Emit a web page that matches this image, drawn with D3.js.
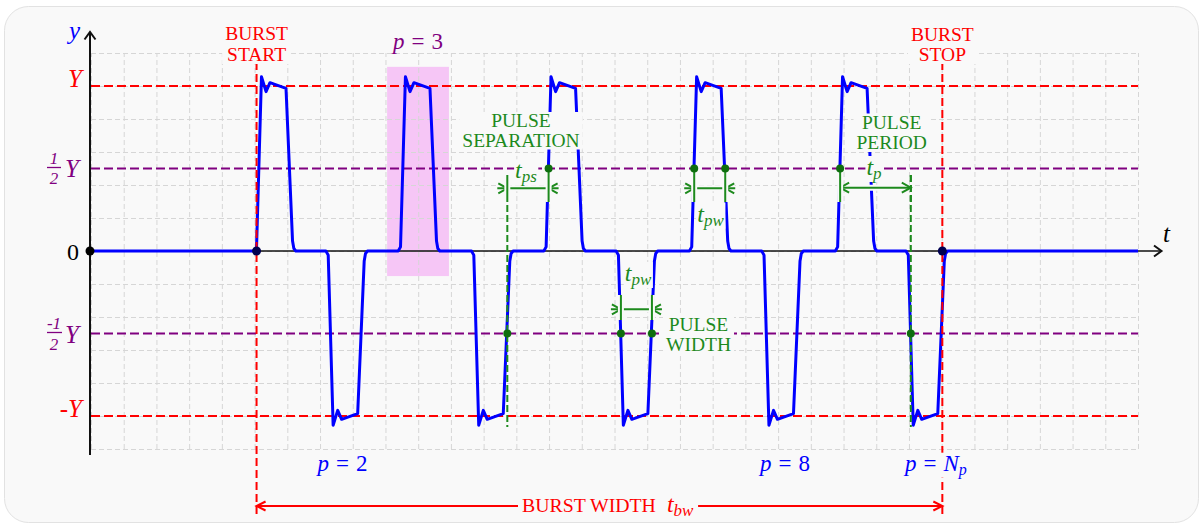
<!DOCTYPE html>
<html><head><meta charset="utf-8">
<script src="https://cdn.jsdelivr.net/npm/d3@7"></script>
<style>html,body{margin:0;padding:0;background:#fff;}svg{display:block;font-family:"Liberation Serif","Times New Roman",serif;}</style>
</head><body><svg id="c" width="1204" height="529"></svg>
<script>
// ---- data (grid units: t along x, y in grid steps) ----
const pulseStarts = [5.06, 7.25, 9.46, 11.70, 13.91, 16.12, 18.36, 20.57, 22.82, 24.98];
const pulseSigns  = [1, -1, 1, -1, 1, -1, 1, -1, 1, -1];
const shapeDt     = [-0.07, 0, 0.15, 0.29, 0.41, 0.90, 1.10, 1.14, 1.20, 1.36];
const shapeLevel  = [0, 0.025, 1.056, 0.966, 1.02, 0.986, 0.06, 0.015, 0, 0];
const amplitude   = 5;              // Y
const redLevels   = [5, -5];        // Y, -Y
const purpleLevels= [2.5, -2.5];    // 1/2 Y, -1/2 Y
const burstStart  = 5.06, burstStop = 26.02;
const halfRiseDt  = 0.076, halfFallDt = 1.024;
const xDomain = [0, 32], yDomain = [-6, 6];
const highlight = {t0: 9.05, t1: 10.94, v0: -0.76, v1: 5.58};
const belowLabels = [{t: 7.69, text: "2"}, {t: 21.21, text: "8"}];

const BG = "#f9f9f9", RED = "#ff0000", PURPLE = "#800080", BLUE = "#0000ff",
      GREEN = "#1d8a1d", DGREEN = "#0e6e0e";

const svg = d3.select("#c");
svg.append("rect").attr("x", 4.5).attr("y", 6.5).attr("width", 1194).attr("height", 516)
   .attr("rx", 24).attr("fill", BG).attr("stroke", "#e2e2e2");

const x = d3.scaleLinear().domain(xDomain).range([91, 1138]);
const y = d3.scaleLinear().domain(yDomain).range([449, 53]);

// highlight box for p = 3
svg.append("rect").attr("x", x(highlight.t0)).attr("y", y(highlight.v1))
   .attr("width", x(highlight.t1) - x(highlight.t0)).attr("height", y(highlight.v0) - y(highlight.v1))
   .attr("fill", "#f6c6f6");

// grid
const gh = y(yDomain[0]) - y(yDomain[1]), gw = x(xDomain[1]) - x(xDomain[0]);
svg.append("g").attr("transform", `translate(0,${y(yDomain[0])})`)
   .call(d3.axisBottom(x).ticks(32).tickSize(-gh).tickFormat(""))
   .call(g => { g.select(".domain").remove(); g.selectAll("line").attr("stroke", "#d6d6d6").attr("stroke-dasharray", "5,3"); });
svg.append("g").attr("transform", `translate(${x(xDomain[0])},0)`)
   .call(d3.axisLeft(y).ticks(12).tickSize(-gw).tickFormat(""))
   .call(g => { g.select(".domain").remove(); g.selectAll("line").attr("stroke", "#d6d6d6").attr("stroke-dasharray", "5,3"); });

// axes
const ax = svg.append("g").attr("stroke", "#111").attr("fill", "none");
ax.append("line").attr("x1", 90).attr("x2", 90).attr("y1", 455).attr("y2", 32).attr("stroke-width", 2);
ax.append("path").attr("d", "M84.5,39.5L90,32L95.5,39.5").attr("stroke-width", 2);
ax.append("line").attr("x1", 90).attr("x2", 1161).attr("y1", y(0)).attr("y2", y(0)).attr("stroke-width", 1.6);
ax.append("path").attr("d", `M1154,${y(0)-5.5}L1161.5,${y(0)}L1154,${y(0)+5.5}`).attr("stroke-width", 2);

// level lines
svg.selectAll(".red").data(redLevels).join("line")
   .attr("x1", x(xDomain[0])).attr("x2", x(xDomain[1])).attr("y1", d => y(d)).attr("y2", d => y(d))
   .attr("stroke", RED).attr("stroke-width", 2).attr("stroke-dasharray", "9,4");
svg.selectAll(".pur").data(purpleLevels).join("line")
   .attr("x1", x(xDomain[0])).attr("x2", x(xDomain[1])).attr("y1", d => y(d)).attr("y2", d => y(d))
   .attr("stroke", PURPLE).attr("stroke-width", 2).attr("stroke-dasharray", "9,4");

// annotation anchor times (half-amplitude crossings)
const tpsLeft = pulseStarts[3] + halfFallDt, tpsRight = pulseStarts[4] + halfRiseDt;
const tpwTopL = pulseStarts[6] + halfRiseDt, tpwTopR = pulseStarts[6] + halfFallDt;
const tpwBotL = pulseStarts[5] + halfRiseDt, tpwBotR = pulseStarts[5] + halfFallDt;
const tpLeft = pulseStarts[8] + halfRiseDt, tpRight = pulseStarts[9] + halfRiseDt;

// waveform
const wave = [[xDomain[0], 0]];
pulseStarts.forEach((s, i) => shapeDt.forEach((d, j) => wave.push([s + d, pulseSigns[i] * shapeLevel[j] * amplitude])));
wave.push([xDomain[1], 0]);
svg.append("path").datum(wave)
   .attr("d", d3.line().x(d => x(d[0])).y(d => y(d[1])))
   .attr("fill", "none").attr("stroke", BLUE).attr("stroke-width", 3).attr("stroke-linejoin", "round");

[tpsLeft, tpRight].forEach(t => {
  svg.append("line").attr("x1", x(t)).attr("x2", x(t)).attr("y1", 175).attr("y2", 427)
     .attr("stroke", GREEN).attr("stroke-width", 2).attr("stroke-dasharray", "7,3");
});

// burst lines
[burstStart, burstStop].forEach(t => {
  svg.append("line").attr("x1", x(t)).attr("x2", x(t)).attr("y1", 62).attr("y2", 518)
     .attr("stroke", RED).attr("stroke-width", 2).attr("stroke-dasharray", "8,4");
});

// dimension helpers
const ann = svg.append("g");
function seg(x1, y1, x2, y2, color, w) {
  ann.append("line").attr("x1", x1).attr("y1", y1).attr("x2", x2).attr("y2", y2)
     .attr("stroke", BG).attr("stroke-width", w + 4);
  ann.append("line").attr("x1", x1).attr("y1", y1).attr("x2", x2).attr("y2", y2)
     .attr("stroke", color).attr("stroke-width", w);
}
function chevron(tx, ty, dir, color, L = 9, H = 5) {
  ann.append("path").attr("d", `M${tx - dir * L},${ty - H}L${tx},${ty}L${tx - dir * L},${ty + H}`)
     .attr("fill", "none").attr("stroke", color).attr("stroke-width", 2);
}
// tps (inward arrows)
{ const a = x(tpsLeft), b = x(tpsRight), yy = 188.3;
  seg(a - 10, yy, b + 10, yy, GREEN, 2); chevron(a, yy, 1, GREEN); chevron(b, yy, -1, GREEN);
  seg(a, 175, a, 200, GREEN, 2); seg(b, 172, b, 202, GREEN, 2); }
// tpw top
{ const a = x(tpwTopL), b = x(tpwTopR), yy = 188.3;
  seg(a - 10, yy, b + 10, yy, GREEN, 2); chevron(a, yy, 1, GREEN); chevron(b, yy, -1, GREEN);
  seg(a, 172, a, 202, GREEN, 2); seg(b, 172, b, 202, GREEN, 2); }
// tpw bottom
{ const a = x(tpwBotL), b = x(tpwBotR), yy = 309.3;
  seg(a - 10, yy, b + 10, yy, GREEN, 2); chevron(a, yy, 1, GREEN); chevron(b, yy, -1, GREEN);
  seg(a, 295, a, 320, GREEN, 2); seg(b, 295, b, 320, GREEN, 2); }
// tp (outward arrows)
{ const a = x(tpLeft), b = x(tpRight), yy = 187.7;
  seg(a, yy, b, yy, GREEN, 2); chevron(a, yy, -1, GREEN); chevron(b, yy, 1, GREEN);
  seg(a, 172, a, 202, GREEN, 2);
  ann.append("line").attr("x1", b).attr("x2", b).attr("y1", 175).attr("y2", 205)
     .attr("stroke", GREEN).attr("stroke-width", 2).attr("stroke-dasharray", "7,3"); }
// burst width
{ const a = x(burstStart), b = x(burstStop), yy = 506;
  ann.append("line").attr("x1", a).attr("x2", b).attr("y1", yy).attr("y2", yy).attr("stroke", RED).attr("stroke-width", 2);
  chevron(a, yy, -1, RED, 9, 4.5); chevron(b, yy, 1, RED, 9, 4.5); }

// dots
const greenDots = [[tpsLeft, -2.5], [tpsRight, 2.5], [tpwTopL, 2.5], [tpwTopR, 2.5],
                   [tpwBotL, -2.5], [tpwBotR, -2.5], [tpLeft, 2.5], [tpRight, -2.5]];
svg.selectAll(".gd").data(greenDots).join("circle")
   .attr("cx", d => x(d[0])).attr("cy", d => y(d[1])).attr("r", 4).attr("fill", DGREEN);
svg.append("circle").attr("cx", 90).attr("cy", y(0)).attr("r", 4.5).attr("fill", "#000");
[burstStart, burstStop].forEach(t => svg.append("circle").attr("cx", x(t)).attr("cy", y(0)).attr("r", 4.5).attr("fill", "#000050"));

// text helper with background patch
const lab = svg.append("g");
function label(lines, anchor, color, pad = 3, bg = true) {
  const g = lab.append("g");
  const boxes = [];
  lines.forEach(L => {
    const t = g.append("text").attr("x", L.x).attr("y", L.y).attr("text-anchor", anchor).attr("fill", color);
    L.parts.forEach(p => {
      const s = t.append("tspan").text(p.s).attr("font-size", p.size || 19.5);
      if (p.it) s.attr("font-style", "italic");
      if (p.dy) s.attr("dy", p.dy);
      if (p.dx) s.attr("dx", p.dx);
    });
    boxes.push(t.node().getBBox());
  });
  if (bg) {
    const x0 = d3.min(boxes, b => b.x), x1 = d3.max(boxes, b => b.x + b.width);
    const y0 = d3.min(boxes, b => b.y), y1 = d3.max(boxes, b => b.y + b.height);
    g.insert("rect", "text").attr("x", x0 - pad).attr("y", y0 + 2).attr("width", x1 - x0 + 2 * pad)
     .attr("height", y1 - y0 - 3).attr("fill", BG);
  }
}
const cap = s => ({s});
const peq = (rhs) => [{s: "p", it: 1, size: 23}, {s: "=", size: 23, dx: 7}, ...rhs];
label([{x: x(burstStart), y: 40, parts: [cap("BURST")]}, {x: x(burstStart), y: 61, parts: [cap("START")]}], "middle", RED);
label([{x: x(burstStop), y: 40.5, parts: [cap("BURST")]}, {x: x(burstStop), y: 61, parts: [cap("STOP")]}], "middle", RED);
label([{x: x(highlight.t0 / 2 + highlight.t1 / 2), y: 48.5, parts: peq([{s: "3", size: 23, dx: 7}])}], "middle", PURPLE);
label([{x: 521, y: 127, parts: [cap("PULSE")]}, {x: 521, y: 146.5, parts: [cap("SEPARATION")]}], "middle", GREEN);
label([{x: 698.5, y: 330.7, parts: [cap("PULSE")]}, {x: 698.5, y: 350.7, parts: [cap("WIDTH")]}], "middle", GREEN);
label([{x: 891.7, y: 128.5, parts: [cap("PULSE")]}, {x: 891.7, y: 149, parts: [cap("PERIOD")]}], "middle", GREEN);
const tsub = (sub) => [{s: "t", it: 1, size: 24}, {s: sub, it: 1, size: 17, dy: 4}];
label([{x: 526, y: 178.3, parts: tsub("ps")}], "middle", GREEN, 1);
label([{x: 710.5, y: 221.7, parts: tsub("pw")}], "middle", GREEN, 1);
label([{x: 638, y: 281, parts: tsub("pw")}], "middle", GREEN, 1);
label([{x: 874, y: 175, parts: tsub("p")}], "middle", GREEN, 1);
label([{x: 522, y: 511.7, parts: [{s: "BURST WIDTH", size: 19.8}, {s: "t", it: 1, size: 24, dx: 11}, {s: "bw", it: 1, size: 17, dy: 4}]}], "start", RED, 4);
belowLabels.forEach(b => label([{x: x(b.t), y: 470.7, parts: peq([{s: b.text, size: 23, dx: 7}])}], "middle", BLUE));
label([{x: 905, y: 470.7, parts: peq([{s: "N", it: 1, size: 23, dx: 7}, {s: "p", it: 1, size: 16, dy: 4}])}], "start", BLUE, 2);

// axis names
label([{x: 74.5, y: 38.5, parts: [{s: "y", it: 1, size: 25}]}], "middle", BLUE, 0, false);
label([{x: 1166.5, y: 241.7, parts: [{s: "t", it: 1, size: 25}]}], "middle", "#000", 0, false);
// level labels
label([{x: 82, y: 87.3, parts: [{s: "Y", it: 1, size: 25}]}], "end", RED, 0, false);
label([{x: 82, y: 416.7, parts: [{s: "-Y", it: 1, size: 25}]}], "end", RED, 0, false);
label([{x: 79, y: 259.8, parts: [{s: "0", size: 24}]}], "end", "#000", 0, false);
function frac(numer, cx, bx0, bx1, barY, nBase, dBase, yBase) {
  label([{x: cx, y: nBase, parts: [{s: numer, it: 1, size: 17}]}], "middle", PURPLE, 0, false);
  label([{x: cx, y: dBase, parts: [{s: "2", it: 1, size: 17}]}], "middle", PURPLE, 0, false);
  lab.append("line").attr("x1", bx0).attr("x2", bx1).attr("y1", barY).attr("y2", barY).attr("stroke", PURPLE).attr("stroke-width", 1.3);
  label([{x: 79, y: yBase, parts: [{s: "Y", it: 1, size: 25}]}], "end", PURPLE, 0, false);
}
frac("1", 54, 47, 61, 167.5, 164, 183.5, 176.7);
frac("-1", 54, 47, 62, 332.5, 328.5, 349.5, 342.7);
</script></body></html>
